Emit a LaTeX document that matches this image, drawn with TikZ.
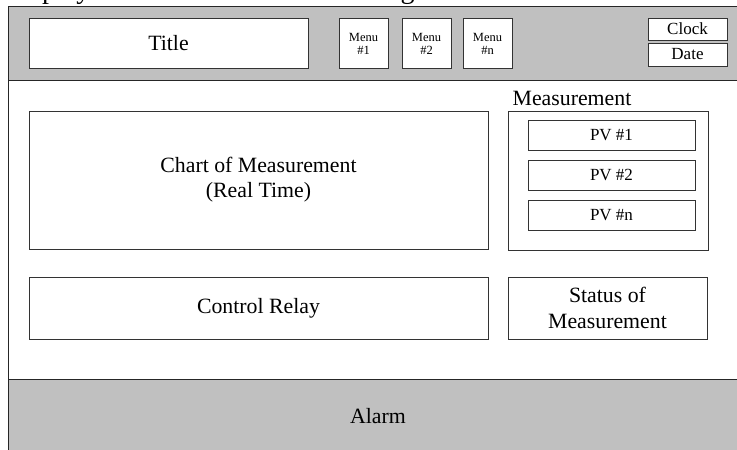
\documentclass[tikz,border=0pt]{standalone}
\usepackage{fontspec}
\setmainfont{Liberation Serif}
\begin{document}
\begin{tikzpicture}[x=1pt,y=-1pt,
  frame/.style={draw=black!85,line width=1pt},
  box/.style={draw=black!80,line width=0.9pt,fill=white,rectangle,inner sep=0pt,align=center},
  big/.style={font=\fontsize{21.8}{25}\selectfont},
  mid/.style={font=\fontsize{17}{20}\selectfont},
  small/.style={font=\fontsize{12.5}{15}\selectfont}]
\useasboundingbox (0,0) rectangle (737,450);
\clip (0,0) rectangle (737,450);
\definecolor{bandgray}{RGB}{192,192,192}
% bands
\fill[bandgray] (8,6) rectangle (745,80);
\fill[bandgray] (8,379) rectangle (745,460);
\draw[frame] (745,6) -- (8,6) -- (8,460);
\draw[frame] (8,80) -- (745,80);
\draw[frame] (8,379) -- (745,379);
% caption (clipped at top, as in the reference)
\node[anchor=base west,inner sep=0pt,font=\fontsize{28}{30}\selectfont] (caption) at (3,-2) {Display Screen Interface Monitoring};
% header
\node[box,big,minimum width=279pt,minimum height=50pt] (title) at (168.5,43.5) {Title};
\node[box,small,minimum width=49pt,minimum height=50pt] (m1) at (363.5,43.5) {Menu\\[-2pt]\#1};
\node[box,small,minimum width=49pt,minimum height=50pt] (m2) at (426.5,43.5) {Menu\\[-2pt]\#2};
\node[box,small,minimum width=49pt,minimum height=50pt] (mn) at (487.5,43.5) {Menu\\[-2pt]\#n};
\node[box,mid,minimum width=79pt,minimum height=22pt] (clock) at (687.5,29) {Clock};
\node[box,mid,minimum width=79pt,minimum height=23pt] (date) at (687.5,54.5) {Date};
% body
\node[big,inner sep=0pt] (mlabel) at (572,98) {Measurement};
\node[box,minimum width=200pt,minimum height=139pt] (mbox) at (608,180.5) {};
\node[box,mid,minimum width=167pt,minimum height=30pt] (pv1) at (611.5,135) {PV \#1};
\node[box,mid,minimum width=167pt,minimum height=30pt] (pv2) at (611.5,175) {PV \#2};
\node[box,mid,minimum width=167pt,minimum height=30pt] (pvn) at (611.5,215) {PV \#n};
\node[box,big,minimum width=459pt,minimum height=138pt] (chart) at (258.5,180) {Chart of Measurement\\(Real Time)};
\node[box,big,minimum width=459pt,minimum height=62pt] (relay) at (258.5,308) {Control Relay};
\node[box,big,minimum width=199pt,minimum height=62pt] (status) at (607.5,308) {Status of\\[1.5pt]Measurement};
% footer
\node[big,inner sep=0pt] (alarm) at (378,416) {Alarm};
\end{tikzpicture}
\end{document}
